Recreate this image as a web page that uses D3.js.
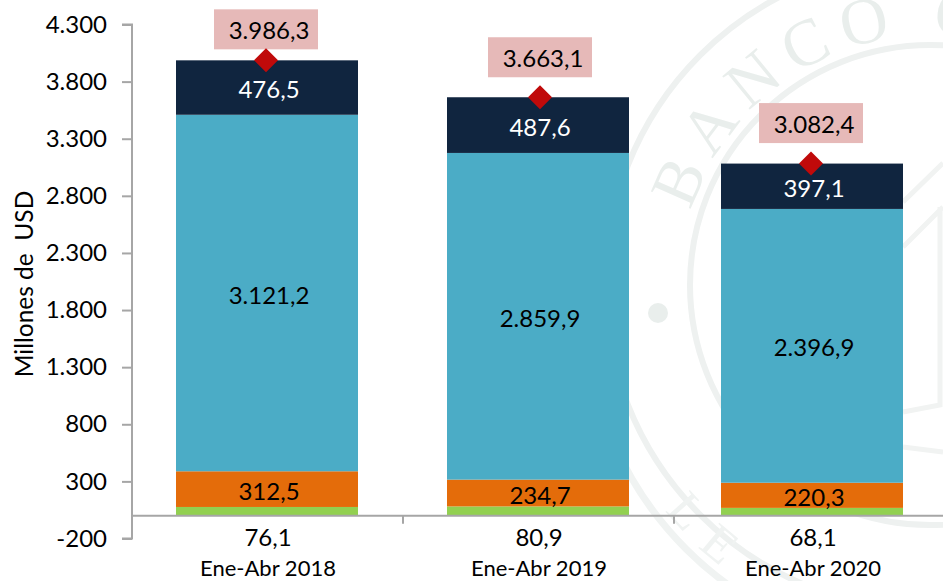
<!DOCTYPE html>
<html>
<head>
<meta charset="utf-8">
<script src="https://cdn.jsdelivr.net/npm/d3@7/dist/d3.min.js"></script>
<style>
  html, body { margin: 0; padding: 0; background: #fff; }
  text { font-family: Lato, "Open Sans", sans-serif; fill: #000; }
</style>
</head>
<body>
<div id="chart"></div>
<script>
var periods = ["Ene-Abr 2018", "Ene-Abr 2019", "Ene-Abr 2020"];
var green  = [76.1, 80.9, 68.1];
var orange = [312.5, 234.7, 220.3];
var blue   = [3121.2, 2859.9, 2396.9];
var navy   = [476.5, 487.6, 397.1];
var totals = [3986.3, 3663.1, 3082.4];
var yTicks = [-200, 300, 800, 1300, 1800, 2300, 2800, 3300, 3800, 4300];

var width = 943, height = 581;

// spanish number format: 3.986,3
var es = d3.formatLocale({decimal: ",", thousands: ".", grouping: [3], currency: ["", ""]});
var fmtVal = es.format(",.1f");
var fmtTick = es.format(",d");

var svg = d3.select("#chart").append("svg")
  .attr("width", width)
  .attr("height", height)
  .style("display", "block");

// seal in the background
var seal = svg.append("g").attr("transform", "translate(930,285)");
[325, 240].forEach(function(r){
  seal.append("circle").attr("r", r)
    .attr("fill", "none").attr("stroke", "#eef1f0").attr("stroke-width", 6);
});
// the lower rings sit a bit further out
var low = d3.path();
low.arc(0, 20, 345, Math.PI * 0.52, Math.PI * 0.98);
seal.append("path").attr("d", low.toString())
  .attr("fill", "none").attr("stroke", "#f0f3f2").attr("stroke-width", 7);

// bits of the shield inside the seal, right of the last bar
seal.append("path")
  .attr("d", "M-27,-83L13,-122M-27,-38L13,-78M10,-78V120L-27,127M-27,162L13,167")
  .attr("fill", "none").attr("stroke", "#f1f3f2").attr("stroke-width", 5);

var topArc = d3.path();
topArc.arc(0, 0, 250, -1.27 - Math.PI/2, 0.4 - Math.PI/2);
seal.append("path").attr("id", "sealTop").attr("fill", "none").attr("d", topArc.toString());
seal.append("text")
  .style("fill", "#e9eeec").style("font-family", "Liberation Serif").style("letter-spacing", "12px")
  .attr("font-size", 66)
  .append("textPath").attr("href", "#sealTop")
  .text("BANCO C");

var botArc = d3.path();
botArc.arc(0, 20, 335, Math.PI * 0.79, Math.PI * 0.55, true);
seal.append("path").attr("id", "sealBot").attr("fill", "none").attr("d", botArc.toString());
seal.append("text")
  .style("fill", "#f0f3f2").style("font-family", "Liberation Serif").style("letter-spacing", "18px")
  .attr("font-size", 50)
  .append("textPath").attr("href", "#sealBot")
  .text("LE");

seal.append("circle").attr("cx", -272).attr("cy", 28).attr("r", 10).attr("fill", "#e9eeec");

var y = d3.scaleLinear().domain([-200, 4300]).range([538.5, 24.5]);
var x = d3.scaleOrdinal().domain(periods).range([267, 538, 812]);
var tickX = d3.scaleLinear().domain([0, 3]).range([132, 945]);
var barW = 182;

var layers = [
  {values: green,  color: "#92d050"},
  {values: orange, color: "#e46c0a", labelColor: "#000"},
  {values: blue,   color: "#4bacc6", labelColor: "#000"},
  {values: navy,   color: "#10253f", labelColor: "#fff"}
];

var rows = periods.map(function(p, i){
  var base = 0;
  return layers.map(function(l){
    var d = {period: p, v: l.values[i], y0: base, y1: base + l.values[i], layer: l};
    base = d.y1;
    return d;
  });
});

rows.forEach(function(row){
  svg.append("g").selectAll("rect").data(row).enter().append("rect")
    .attr("x", function(d){ return x(d.period) - barW/2; })
    .attr("width", barW)
    .attr("y", function(d){ return y(d.y1); })
    .attr("height", function(d){ return y(d.y0) - y(d.y1); })
    .attr("fill", function(d){ return d.layer.color; });

  svg.append("g").selectAll("text").data(row.filter(function(d){ return d.layer.labelColor; })).enter().append("text")
    .attr("x", function(d){ return x(d.period) + 2; })
    .attr("y", function(d){ return y((d.y0 + d.y1)/2) + 2; })
    .attr("dy", "0.36em")
    .attr("text-anchor", "middle")
    .attr("font-size", 24)
    .style("fill", function(d){ return d.layer.labelColor; })
    .text(function(d){ return fmtVal(d.v); });
});

// axes
var axis = d3.axisLeft(y).tickValues(yTicks).tickSize(10).tickPadding(15)
  .tickFormat(function(d){ return fmtTick(d).replace(/^[−-]/, "-"); });
var gy = svg.append("g").attr("transform", "translate(132,0)").call(axis);
gy.selectAll("text").attr("font-size", 24);
gy.selectAll("line, path").attr("stroke", "#a6a6a6").attr("stroke-width", 2);
gy.select(".domain").attr("d", "M-10," + y(4300) + "H0V" + y(-200) + "H-10");

var gx = svg.append("g").attr("transform", "translate(0," + y(0) + ")");
gx.append("line").attr("x1", 132).attr("x2", width)
  .attr("stroke", "#a6a6a6").attr("stroke-width", 2);
gx.selectAll(".tk").data([1, 2]).enter().append("line")
  .attr("x1", function(d){ return tickX(d); }).attr("x2", function(d){ return tickX(d); })
  .attr("y1", 0).attr("y2", 8)
  .attr("stroke", "#a6a6a6").attr("stroke-width", 2);

// values of the green series under the axis
svg.append("g").selectAll("text").data(green).enter().append("text")
  .attr("x", function(d, i){ return x(periods[i]) + 1; })
  .attr("y", 546)
  .attr("text-anchor", "middle")
  .attr("font-size", 24)
  .text(function(d){ return fmtVal(d); });

svg.append("g").selectAll("text").data(periods).enter().append("text")
  .attr("x", function(d){ return x(d) + 1; })
  .attr("y", 576)
  .attr("text-anchor", "middle")
  .attr("font-size", 22)
  .text(function(d){ return d; });

svg.append("text")
  .attr("transform", "translate(33,284)rotate(-90)")
  .attr("text-anchor", "middle")
  .attr("font-size", 24.5)
  .style("white-space", "pre")
  .text("Millones de  USD");

// totals, the boxes do not keep a fixed distance from the bars
var boxShift = [-1, 2, -1];
var boxTop = [-51, -60, -60.5];
var tot = svg.append("g").selectAll("g").data(totals).enter().append("g")
  .attr("transform", function(d, i){ return "translate(" + (x(periods[i]) + boxShift[i]) + "," + y(d) + ")"; });
tot.append("rect")
  .attr("x", -52).attr("width", 104)
  .attr("y", function(d, i){ return boxTop[i]; })
  .attr("height", 40)
  .attr("fill", "#e6b9b8");
tot.append("text")
  .attr("x", 3)
  .attr("y", function(d, i){ return boxTop[i] + 21; })
  .attr("dy", "0.36em")
  .attr("text-anchor", "middle")
  .attr("font-size", 24)
  .text(function(d){ return fmtVal(d); });
tot.append("path")
  .attr("d", d3.symbol().type(d3.symbolSquare).size(288))
  .attr("transform", "rotate(45)")
  .attr("fill", "#c00a0a");
</script>
</body>
</html>
